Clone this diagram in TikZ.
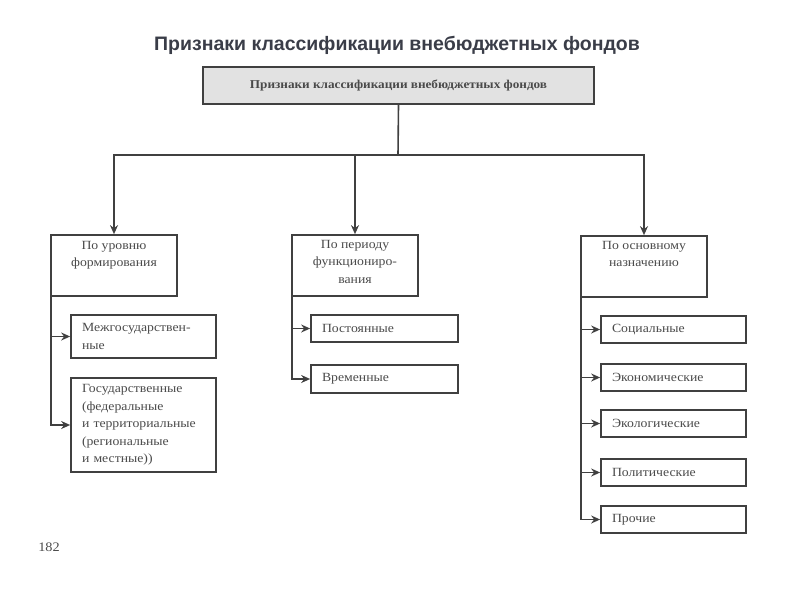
\documentclass[tikz,border=0pt]{standalone}
\usepackage{fontspec}
\setmainfont{Liberation Serif}[FakeStretch=1.1]
\newfontfamily\titlefont{Liberation Sans}
\usetikzlibrary{arrows.meta}
\definecolor{ink}{HTML}{404040}
\definecolor{txt}{HTML}{4A4A4A}
\definecolor{ttl}{HTML}{3A3D48}
\definecolor{topfill}{HTML}{E2E2E2}
\tikzset{
  box/.style={draw=ink, line width=1.7pt, rectangle, inner sep=0pt},
  kid/.style={box, text=txt, align=left, inner xsep=11pt,
    font=\fontsize{12.5}{17.5}\selectfont},
  lbl/.style={text=txt, align=center, inner sep=0pt,
    font=\fontsize{12.5}{17.5}\selectfont},
  conn/.style={draw=ink, line width=1.6pt},
  arr/.style={conn, -{Stealth[length=9pt,width=8pt]}},
}
\begin{document}
\begin{tikzpicture}[x=1pt,y=-1pt]
\useasboundingbox (0,0) rectangle (800,600);
\node[text=ttl, font=\titlefont\bfseries\fontsize{19.5}{22}\selectfont] (title) at (397,45) {Признаки классификации внебюджетных фондов};
\node[box, fill=topfill, minimum width=391pt, minimum height=37pt, text=txt, font=\fontsize{12}{13}\selectfont\bfseries] (top) at (398.5,85.5) {Признаки классификации внебюджетных фондов};
% parents
\node[box, minimum width=126pt, minimum height=61pt] (lvl) at (114,265.5) {};
\node[lbl, anchor=north] (lvlt) at (114,241) {По уровню\\формирования};
\node[box, minimum width=126pt, minimum height=61pt] (per) at (355,265.5) {};
\node[lbl, anchor=north] (pert) at (355,240) {По периоду\\функциониро-\\вания};
\node[box, minimum width=126pt, minimum height=61pt] (naz) at (644,266.5) {};
\node[lbl, anchor=north] (nazt) at (644,241) {По основному\\назначению};
% bus
\coordinate (bus) at (398,155);
\draw[conn] (top.south) -- (bus);
\draw[arr] (bus) -| (lvl.north);
\draw[arr] (bus) -| (per.north);
\draw[arr] (bus) -| (naz.north);
% left children
\node[kid, minimum width=145pt, minimum height=43pt, text width=123pt] (c1) at (143.5,336.5) {Межгосударствен-\\ные};
\node[kid, minimum width=145pt, minimum height=94pt, text width=123pt] (c2) at (143.5,425) {Государственные\\(федеральные\\и территориальные\\(региональные\\и местные))};
\draw[arr] ([xshift=1pt]lvl.south west) |- (c1.west);
\draw[arr] ([xshift=1pt]lvl.south west) |- (c2.west);
% middle children
\node[kid, minimum width=147pt, minimum height=27pt, text width=125pt] (p1) at (384.5,328.5) {Постоянные};
\node[kid, minimum width=147pt, minimum height=28pt, text width=125pt] (p2) at (384.5,379) {Временные};
\draw[arr] ([xshift=1pt]per.south west) |- (p1.west);
\draw[arr] ([xshift=1pt]per.south west) |- (p2.west);
% right children
\node[kid, minimum width=145pt, minimum height=27pt, text width=123pt] (s1) at (673.5,329.5) {Социальные};
\node[kid, minimum width=145pt, minimum height=27pt, text width=123pt] (s2) at (673.5,377.5) {Экономические};
\node[kid, minimum width=145pt, minimum height=27pt, text width=123pt] (s3) at (673.5,423.5) {Экологические};
\node[kid, minimum width=145pt, minimum height=27pt, text width=123pt] (s4) at (673.5,472.5) {Политические};
\node[kid, minimum width=145pt, minimum height=27pt, text width=123pt] (s5) at (673.5,519.5) {Прочие};
\foreach \k in {s1,s2,s3,s4,s5}{
  \draw[arr] ([xshift=1pt]naz.south west) |- (\k.west);
}
\node[text=txt, font=\fontsize{13}{14}\selectfont] (page) at (49,547) {182};
\end{tikzpicture}
\end{document}
